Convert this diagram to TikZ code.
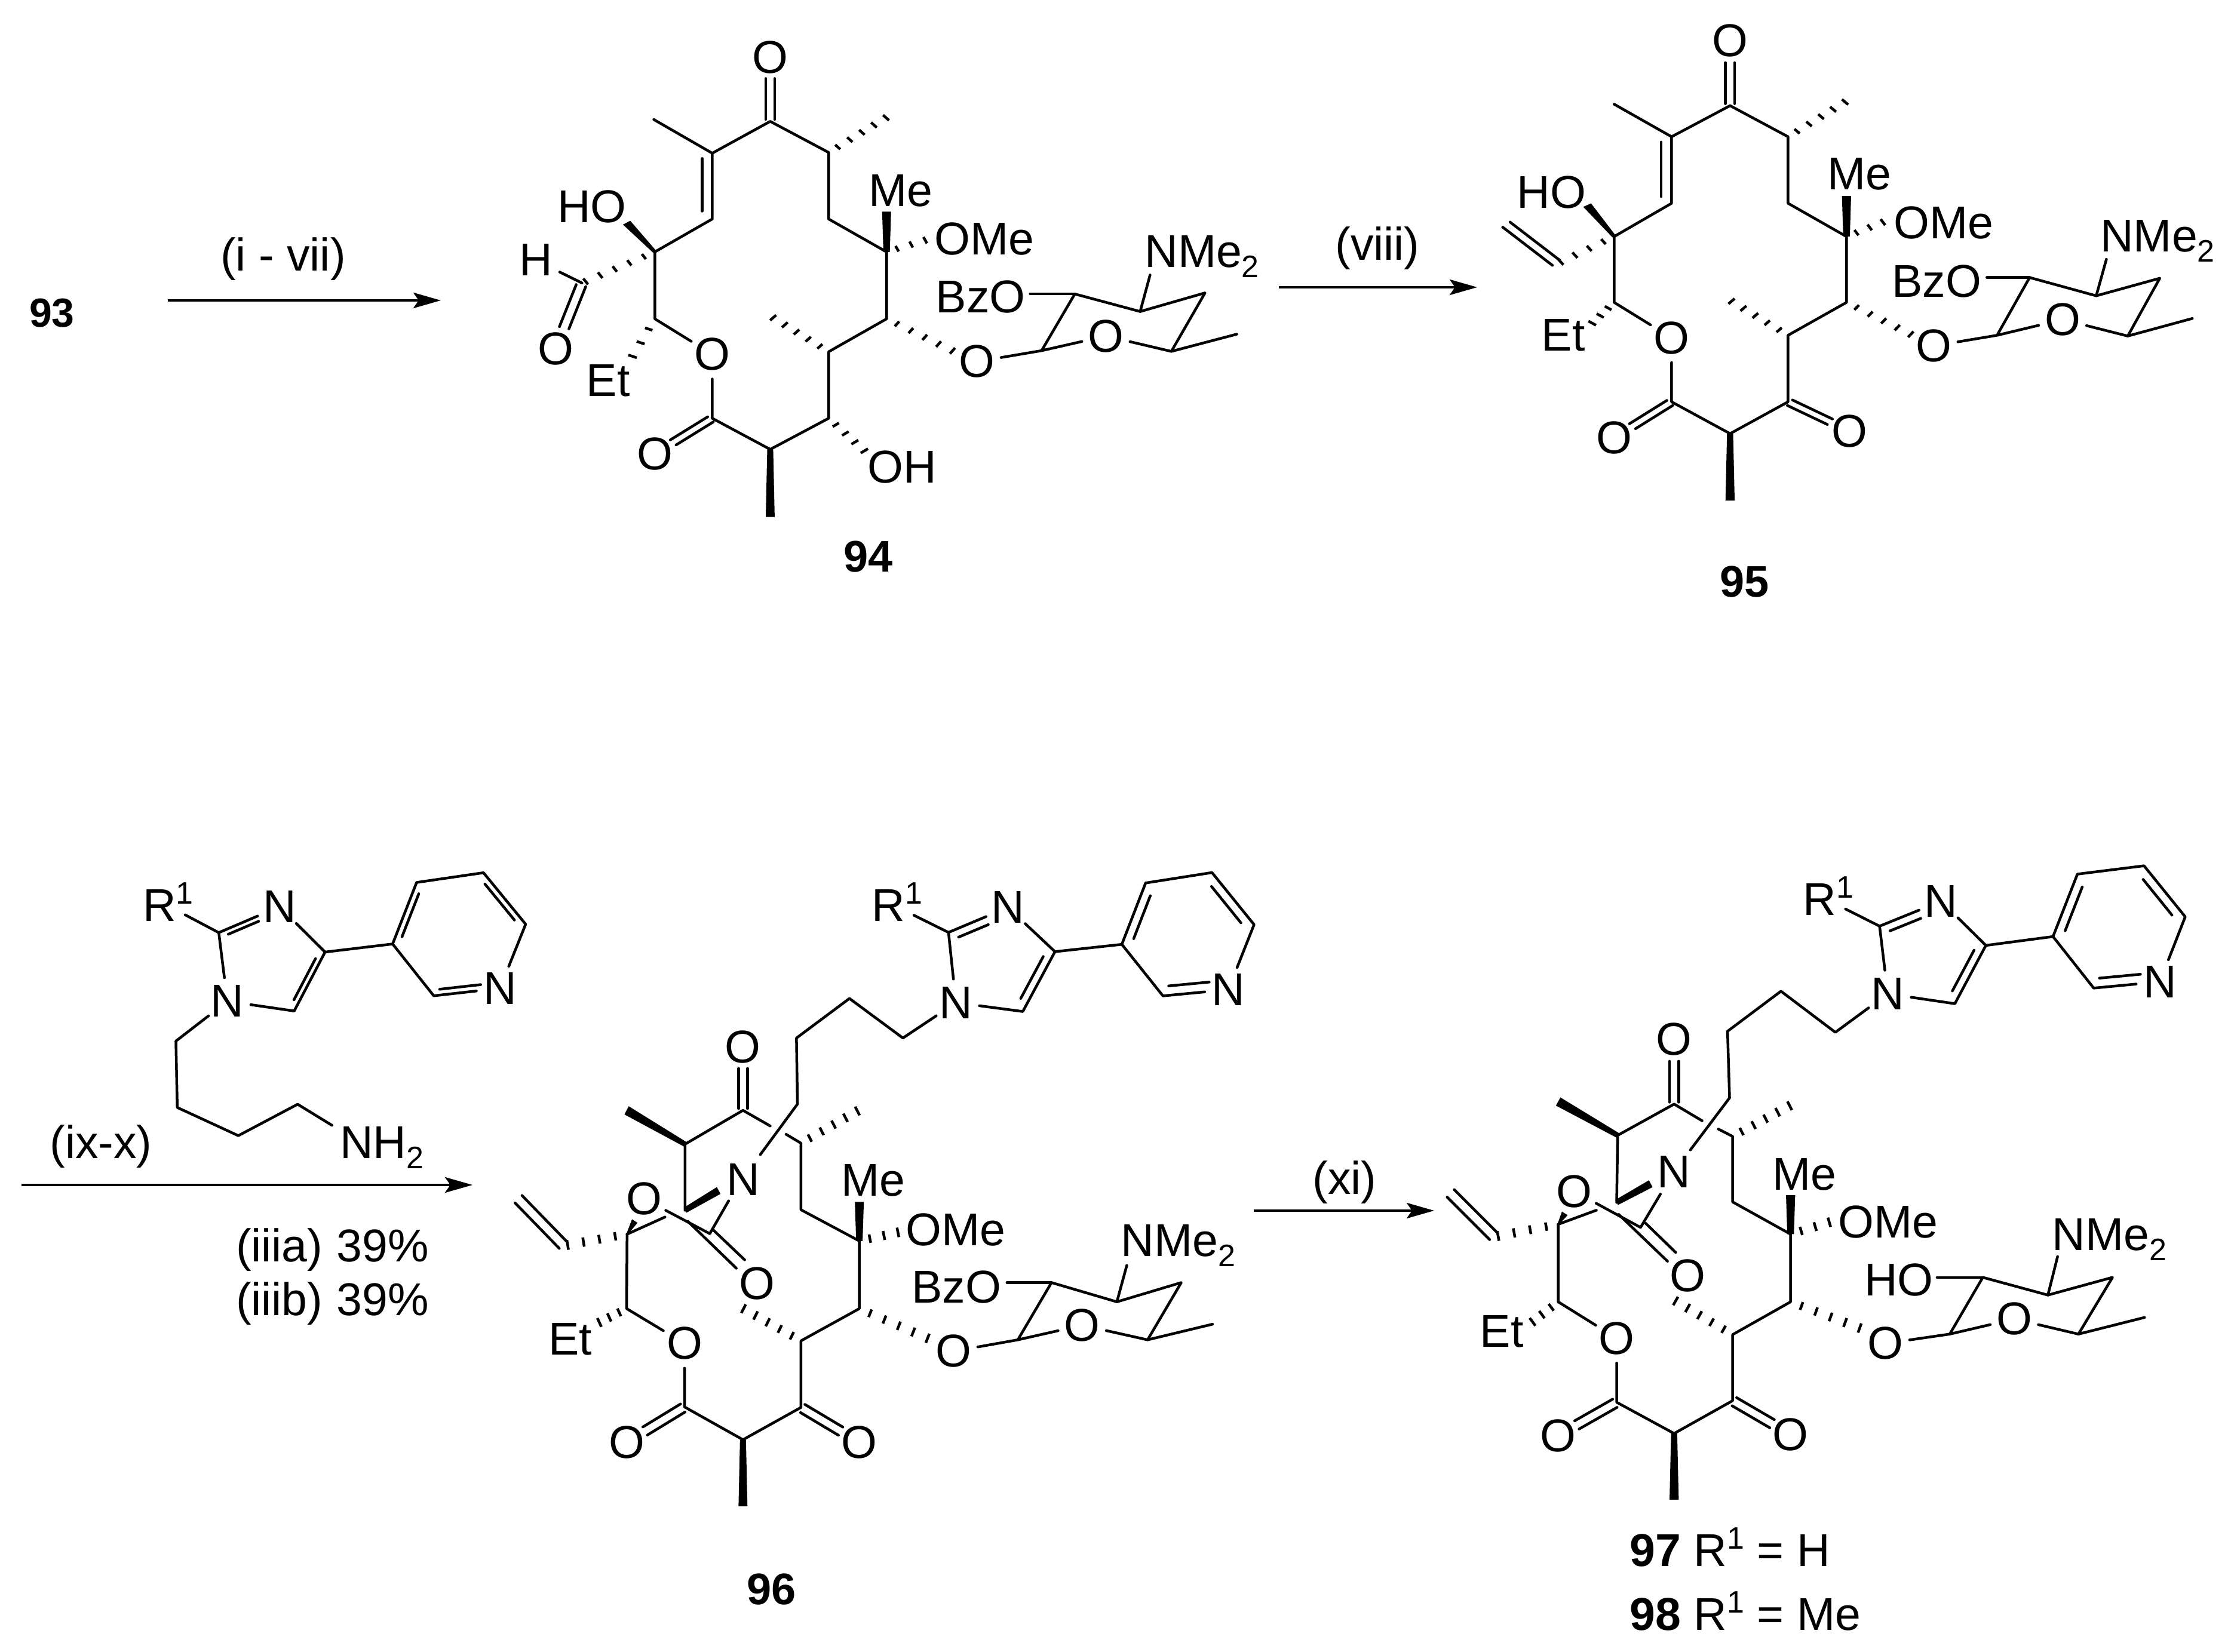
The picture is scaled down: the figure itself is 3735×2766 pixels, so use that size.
\documentclass[tikz,border=0pt]{standalone}
\usepackage{fontspec}
\setmainfont{Liberation Sans}
\usetikzlibrary{calc,arrows.meta}
\tikzset{
  bd/.style={line width=0.9pt,line cap=round,line join=round},
  hs/.style={line width=0.9pt,line cap=butt},
  txt/.style={font=\fontsize{15.4}{18}\selectfont},
  atom/.style={txt,circle,inner sep=0pt,minimum size=15.5pt},
  lab/.style={txt,inner sep=0pt,text height=11pt,text depth=0pt},
  cpd/.style={lab,font=\fontsize{14.8}{17}\selectfont\bfseries},
  rx/.style={line width=0.85pt,-{Stealth[length=9.2pt,width=5.2pt,inset=1.8pt]}}
}
\newcommand\chemsub[1]{\raisebox{-3.4pt}{\fontsize{10.4}{10}\selectfont #1}}
\newcommand\chemsup[1]{\raisebox{5.8pt}{\fontsize{10.4}{10}\selectfont #1}}
\newcommand\atompts[1]{\foreach \pN/\pX/\pY in {#1}{\coordinate (\pN) at (\pX,\pY);}}
\newcommand\hashb[3]{\foreach \hI in {1,...,#3}{%
  \pgfmathsetmacro\hT{(\hI-0.25)/#3}\pgfmathsetmacro\hW{1.55+0.35*\hT}%
  \draw[hs] ($(#1)!\hT!(#2)!\hW pt!90:(#2)$) -- ($(#1)!\hT!(#2)!\hW pt!-90:(#2)$);}}
\newcommand\wedgeb[4]{\fill ($(#1)!#3pt!90:(#2)$) -- ($(#1)!#3pt!-90:(#2)$) -- ($(#2)!#4pt!90:(#1)$) -- ($(#2)!#4pt!-90:(#1)$) -- cycle;}
\newcommand\dblb[5]{\draw[bd] ($(#1)!#4!(#2)!#3pt!90:(#2)$) -- ($(#1)!#5!(#2)!#3pt!90:(#2)$);}
\newcommand\sugarbonds{\draw[bd] (Oj)--(s1)--(Os)--(s2)--(s3)--(s4)--(s5)--(s1);
  \draw[bd] (s5)--(bze); \draw[bd] (s4)--(ne); \draw[bd] (s2)--(sme);}
\newcommand\imidbonds{\draw[bd] (N1)--(C2)--(N3)--(C4)--(C5)--(N1);
  \draw[bd] (C2)--(rb);
  \draw[bd] (C4)--(p1)--(p2)--(p3)--(p4)--(Np)--(p6)--(p1);
  \dblb{C2}{N3}{-3.2}{.12}{.62}\dblb{C4}{C5}{-3.2}{.15}{.85}
  \dblb{p1}{p2}{-3.6}{.15}{.85}\dblb{p3}{p4}{-3.6}{.15}{.85}\dblb{Np}{p6}{-3.6}{.28}{.9}}
\newcommand\coreback{\hashb{j}{jo}{5}\hashb{k}{ko}{3}\wedgeb{k}{kme}{1.3}{1.8}\wedgeb{g}{gme}{1.2}{1.8}\hashb{e}{ete}{3}\hashb{i}{ime}{5}}
\newcommand\esterdbl{\dblb{f}{Of}{1.8}{.03}{.68}\dblb{f}{Of}{-1.8}{.03}{.68}}
\newcommand\ketodbl{\dblb{h}{Oh}{1.8}{.03}{.68}\dblb{h}{Oh}{-1.8}{.03}{.68}}
\newcommand\vinylb{\dblb{v}{ve}{2}{.02}{.97}\dblb{v}{ve}{-2}{.02}{.97}\hashb{d}{v}{4}}
\begin{document}
\begin{tikzpicture}[x=0.2pt,y=-0.2pt]
\useasboundingbox (0,0) rectangle (3735,2766);
\fill[white] (0,0) rectangle (3735,2766);

% reaction arrows and conditions
\node[cpd,font=\fontsize{13.6}{16}\selectfont\bfseries] (n93) at (87,520) {93};
\coordinate (r1s) at (281,503); \coordinate (r1e) at (738,503);
\draw[rx] (r1s) -- (r1e);
\node[lab] (t1) at (474,426) {(i - vii)};
\coordinate (r2s) at (2141,481); \coordinate (r2e) at (2473,481);
\draw[rx] (r2s) -- (r2e);
\node[lab] (t2) at (2306,408) {(viii)};
\coordinate (r3s) at (36,1984); \coordinate (r3e) at (791,1984);
\draw[rx] (r3s) -- (r3e);
\node[lab] (t3) at (169,1912) {(ix-x)};
\node[lab,anchor=west] (t3a) at (394,2085) {(iiia)\hspace{0.3em}39\%};
\node[lab,anchor=west] (t3b) at (394,2175) {(iiib)\hspace{0.3em}39\%};
\coordinate (r4s) at (2099,2027); \coordinate (r4e) at (2401,2027);
\draw[rx] (r4s) -- (r4e);
\node[lab] (t4) at (2251,1972) {(xi)};

% 94
\begin{scope}[name prefix=A-,shift={(850,30)},xscale=.8291,yscale=.6122]
\atompts{a/530/283,b/413/370,c/413/550,d/297/640,e/297/823,f/413/1095,g/530/1180,h/648/1095,i/648/913,j/765/823,k/765/640,l/648/550,m/648/368,mb/295/278,hoe/240/560,cho/150/725,hend/105/695,ete/248/935,gme/530/1365,ohe/725/1190,ime/530/815,jo/905/915,kme/765/530,ko/850/605,mme/770/268,s1/1078/910,s2/1340/912,s3/1408/752,s4/1277/803,s5/1145/755,bze/1055/755,ne/1297/703,sme/1472/865}
\node[atom] (O1) at (530,108) {O};
\node[atom] (Och) at (97,905) {O};
\node[atom] (O3) at (413,920) {O};
\node[atom] (Of) at (297,1192) {O};
\node[atom] (Oj) at (947,940) {O};
\node[atom] (Os) at (1208,870) {O};
\node[lab] (HO) at (170,515) {HO};
\node[lab] (H) at (57,660) {H};
\node[lab] (Et) at (203,990) {Et};
\node[lab] (OH) at (796,1227) {OH};
\node[lab] (Me) at (794,470) {Me};
\node[lab] (OMe) at (962,602) {OMe};
\node[lab] (BzO) at (955,762) {BzO};
\node[lab,anchor=west] (NMe) at (1285,637) {NMe\chemsub{2}};
\node[cpd] (n94) at (728,1470) {94};
\draw[bd] (d)--(c)--(b)--(a)--(m)--(l)--(k)--(j)--(i)--(h)--(g)--(f)--(O3)--(e)--(d);
\draw[bd] (b)--(mb);
\dblb{b}{c}{-4.1}{.08}{.88}
\dblb{a}{O1}{1.8}{.03}{.67}\dblb{a}{O1}{-1.8}{.03}{.67}
\draw[bd] (cho)--(hend);
\dblb{cho}{Och}{2}{.04}{.68}\dblb{cho}{Och}{-2}{.04}{.68}
\esterdbl
\hashb{d}{cho}{5}\hashb{m}{mme}{5}\hashb{h}{ohe}{4}
\wedgeb{d}{hoe}{.8}{1.8}
\coreback
\sugarbonds
\end{scope}

% 95
\begin{scope}[name prefix=B-,shift={(2400,30)},xscale=.8514,yscale=.6122]
\atompts{a/583/240,b/468/325,c/468/507,d/355/598,e/355/778,f/468/1050,g/583/1137,h/697/1050,i/697/868,j/812/778,k/812/598,l/697/507,m/697/325,mb/355/236,hoe/302/512,v/243/672,ve/140/562,ete/308/840,gme/583/1320,ime/580/770,jo/945/870,kme/812/487,ko/890/555,mme/815/225,s1/1108/868,s2/1365/870,s3/1428/712,s4/1303/760,s5/1172/710,bze/1088/710,ne/1323/660,sme/1492/822}
\node[atom] (O1) at (583,62) {O};
\node[atom] (O3) at (468,875) {O};
\node[atom] (Of) at (355,1148) {O};
\node[atom] (Oh) at (818,1130) {O};
\node[atom] (Oj) at (983,897) {O};
\node[atom] (Os) at (1237,825) {O};
\node[lab] (HO) at (232,475) {HO};
\node[lab] (Et) at (255,865) {Et};
\node[lab] (Me) at (837,425) {Me};
\node[lab] (OMe) at (1003,558) {OMe};
\node[lab] (BzO) at (989,718) {BzO};
\node[lab,anchor=west] (NMe) at (1310,595) {NMe\chemsub{2}};
\node[cpd] (n95) at (611,1538) {95};
\draw[bd] (d)--(c)--(b)--(a)--(m)--(l)--(k)--(j)--(i)--(h)--(g)--(f)--(O3)--(e)--(d);
\draw[bd] (b)--(mb);
\dblb{b}{c}{-4.1}{.08}{.9}
\dblb{a}{O1}{1.8}{.03}{.66}\dblb{a}{O1}{-1.8}{.03}{.66}
\esterdbl\ketodbl\vinylb
\hashb{m}{mme}{5}
\wedgeb{d}{hoe}{.8}{1.8}
\coreback
\sugarbonds
\end{scope}

% side chain reagent
\begin{scope}[name prefix=R-,shift={(0,1400)},xscale=.574,yscale=.5421]
\atompts{C2/638/298,C4/948/358,C5/858/540,p1/1145/333,p2/1215/143,p3/1410/113,p4/1533/272,p6/1265/493,rb/540/243,c1/513/633,c2/517/838,c3/695/925,c4/868/828,ne/968/893}
\node[atom] (N1) at (663,510) {N};
\node[atom] (N3) at (815,218) {N};
\node[atom] (Np) at (1458,470) {N};
\node[lab] (R) at (490,212) {R\chemsup{1}};
\node[lab,anchor=west] (NH) at (990,945) {NH\chemsub{2}};
\imidbonds
\draw[bd] (N1)--(c1)--(c2)--(c3)--(c4)--(ne);
\end{scope}

% 96
\begin{scope}[name prefix=C-,shift={(850,1400)},xscale=.8291,yscale=.8712]
\atompts{a/475/527,b/358/592,bm/240/527,ae/530/557,cs/562/573,c/592/590,cme/712/525,nb/358/719,nw/426/681,c1/798/388,c2/690/312,c3/583/388,c4/585/515,nn/510/612,Cc/408/764,nce/446/701,pa/364/740.5,pb/461.5/830.4,pc/414/756,pd/478.4/814.3,d/241/765,de/317.6/732,dwe/256.5/739.7,v/113/787,ve/19/695,e/240/908,ete/180/937,f/357/1097,g/475/1160,gme/475/1288,h/592/1098,i/592/970,ime/470/905,j/710/908,jo/855/968,k/710/778,kme/710/703,ko/795/760,l/592/718,s1/1030/968,s2/1292/968,s3/1360/858,s4/1230/895,s5/1098/858,bze/1008/858,ne/1250/825,sme/1423/938,C2/890/185,C4/1105/222,C5/1040/337,p1/1240/208,p2/1288/90,p3/1422/70,p4/1507/170,p6/1323/307,rb/820/152}
\node[atom] (O1) at (475,405) {O};
\node[atom] (Nn) at (475,660) {N};
\node[atom] (Ou) at (275,697) {O};
\node[atom] (Ol) at (503,860) {O};
\node[atom] (O3) at (357,975) {O};
\node[atom] (Of) at (240,1165) {O};
\node[atom] (Oh) at (710,1165) {O};
\node[atom] (Oj) at (900,990) {O};
\node[atom] (Os) at (1160,940) {O};
\node[atom] (N1) at (905,320) {N};
\node[atom] (N3) at (1010,137) {N};
\node[atom] (Np) at (1455,295) {N};
\node[lab] (R) at (786,132) {R\chemsup{1}};
\node[lab] (Et) at (126,965) {Et};
\node[lab] (Me) at (738,660) {Me};
\node[lab] (OMe) at (905,755) {OMe};
\node[lab] (BzO) at (906,866) {BzO};
\node[lab,anchor=west] (NMe) at (1237,776) {NMe\chemsub{2}};
\node[cpd] (n96) at (533,1445) {96};
\draw[bd] (d)--(e)--(O3)--(f)--(g)--(h)--(i)--(j)--(k)--(l)--(c)--(cs);
\draw[bd] (ae)--(a)--(b)--(nb);
\draw[bd] (N1)--(c1)--(c2)--(c3)--(c4)--(nn);
\draw[bd] (Ou)--(Cc)--(nce);
\draw[bd] (pa)--(pb); \draw[bd] (pc)--(pd);
\draw[bd] (d)--(de);
\dblb{a}{O1}{1.8}{.03}{.66}\dblb{a}{O1}{-1.8}{.03}{.66}
\wedgeb{b}{bm}{1}{1.8}\wedgeb{nb}{nw}{1.1}{1.5}\wedgeb{d}{dwe}{.3}{1.3}
\hashb{c}{cme}{5}
\esterdbl\ketodbl\vinylb
\coreback
\sugarbonds
\imidbonds
\end{scope}

% 97 / 98
\begin{scope}[name prefix=D-,shift={(2400,1400)},xscale=.8514,yscale=.8712]
\atompts{a/473/515,b/362/575,bm/245/510,ae/528/547,cs/560/563,c/588/577,cme/706/515,nb/360/704,nw/427/668,c1/790/377,c2/683/298,c3/578/375,c4/582/503,nn/505/603,Cc/407/752,nce/446/688,pa/364/727,pb/460/817,pc/417/744,pd/476/800,d/245/746,de/320/719,dwe/258/725,v/119/770,ve/31/684,e/245/895,ete/190/937,f/360/1088,g/473/1148,gme/473/1275,h/588/1085,i/588/958,ime/470/890,j/702/895,jo/845/948,k/702/765,kme/702/690,ko/785/740,l/588/703,s1/1015/957,s2/1268/957,s3/1335/848,s4/1208/882,s5/1080/848,bze/990/848,ne/1227/808,sme/1398/925,C2/877/173,C4/1086/210,C5/1025/322,p1/1218/193,p2/1266/73,p3/1397/57,p4/1478/155,p6/1298/292,rb/810/140}
\node[atom] (O1) at (473,390) {O};
\node[atom] (Nn) at (472,645) {N};
\node[atom] (Ou) at (277,683) {O};
\node[atom] (Ol) at (500,845) {O};
\node[atom] (O3) at (360,965) {O};
\node[atom] (Of) at (245,1152) {O};
\node[atom] (Oh) at (702,1150) {O};
\node[atom] (Oj) at (888,975) {O};
\node[atom] (Os) at (1142,928) {O};
\node[atom] (N1) at (893,303) {N};
\node[atom] (N3) at (998,125) {N};
\node[atom] (Np) at (1428,280) {N};
\node[lab] (R) at (776,120) {R\chemsup{1}};
\node[lab] (Et) at (134,950) {Et};
\node[lab] (Me) at (729,648) {Me};
\node[lab] (OMe) at (894,740) {OMe};
\node[lab] (HO) at (915,852) {HO};
\node[lab,anchor=west] (NMe) at (1215,765) {NMe\chemsub{2}};
\node[lab,anchor=west] (n97) at (385,1372) {\textbf{97} R\chemsup{1} = H};
\node[lab,anchor=west] (n98) at (385,1495) {\textbf{98} R\chemsup{1} = Me};
\draw[bd] (d)--(e)--(O3)--(f)--(g)--(h)--(i)--(j)--(k)--(l)--(c)--(cs);
\draw[bd] (ae)--(a)--(b)--(nb);
\draw[bd] (N1)--(c1)--(c2)--(c3)--(c4)--(nn);
\draw[bd] (Ou)--(Cc)--(nce);
\draw[bd] (pa)--(pb); \draw[bd] (pc)--(pd);
\draw[bd] (d)--(de);
\dblb{a}{O1}{1.8}{.03}{.66}\dblb{a}{O1}{-1.8}{.03}{.66}
\wedgeb{b}{bm}{1}{1.8}\wedgeb{nb}{nw}{1.1}{1.5}\wedgeb{d}{dwe}{.3}{1.3}
\hashb{c}{cme}{5}
\esterdbl\ketodbl\vinylb
\coreback
\sugarbonds
\imidbonds
\end{scope}
\end{tikzpicture}
\end{document}
